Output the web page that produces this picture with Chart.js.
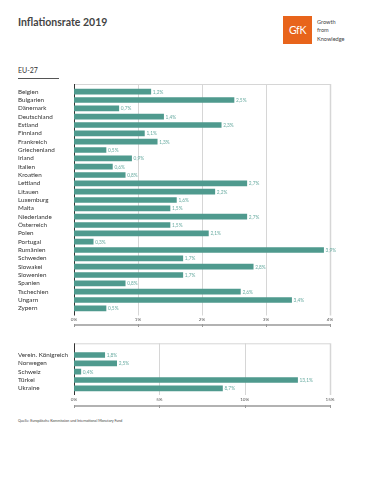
<!DOCTYPE html>
<html lang="de">
<head>
<meta charset="UTF-8">
<script src="https://cdn.jsdelivr.net/npm/chart.js"></script>
<title>Inflationsrate 2019</title>
<style>
    body{ margin:0; background:#fff; font-family: Lato, "Noto Sans", sans-serif; }
    .page{ position:relative; width:367px; height:480px; overflow:hidden; }
    .title{ position:absolute; left:18px; top:16px; font-size:10.5px; font-weight:bold; color:#444; }
    .logo{ position:absolute; left:283px; top:16px; width:29px; height:28px; background:#e8641b;
           color:#fff; font-size:10.5px; line-height:28px; text-align:center; letter-spacing:-0.3px; }
    .claim{ position:absolute; left:317px; top:18px; font-size:5.6px; line-height:8.3px; color:#444; }
    .sub{ position:absolute; left:18px; top:66px; font-size:7px; color:#333; }
    .subline{ position:absolute; left:18px; top:78px; width:41px; height:1px; background:#555; }
    .source{ position:absolute; left:18px; top:418px; font-size:3.6px; color:#444; }
    #c1{ position:absolute; left:0; top:76px; }
    #c2{ position:absolute; left:0; top:336px; }
</style>
</head>
<body>
<div class="page">
    <div class="title">Inflationsrate 2019</div>
    <div class="logo">GfK</div>
    <div class="claim">Growth<br>from<br>Knowledge</div>
    <div class="sub">EU-27</div>
    <div class="subline"></div>
    <canvas id="c1" width="367" height="256"></canvas>
    <canvas id="c2" width="367" height="76"></canvas>
    <div class="source">Quelle: Europäische Kommission und International Monetary Fund</div>
</div>
<script>
// EU-27
const euLaender = ['Belgien','Bulgarien','Dänemark','Deutschland','Estland','Finnland','Frankreich',
    'Griechenland','Irland','Italien','Kroatien','Lettland','Litauen','Luxemburg','Malta','Niederlande',
    'Österreich','Polen','Portugal','Rumänien','Schweden','Slowakei','Slowenien','Spanien','Tschechien',
    'Ungarn','Zypern'];
const euWerte = [1.2, 2.5, 0.7, 1.4, 2.3, 1.1, 1.3, 0.5, 0.9, 0.6, 0.8, 2.7, 2.2, 1.6, 1.5, 2.7,
    1.5, 2.1, 0.3, 3.9, 1.7, 2.8, 1.7, 0.8, 2.6, 3.4, 0.5];
const euTicks = [0, 1, 2, 3, 4];

// andere Länder
const andereLaender = ['Verein. Königreich','Norwegen','Schweiz','Türkei','Ukraine'];
const andereWerte = [1.8, 2.5, 0.4, 13.1, 8.7];
const andereTicks = [0, 5, 10, 15];

const barColor = '#4f9a8e';
const labelColor = '#6aaca2';

function fmt(v){ return v.toFixed(1).replace('.', ',') + '%'; }

// rahmen, gitter, untere achse und werte selbst zeichnen
const framePlugin = {
    id: 'frame',
    beforeDatasetsDraw(chart, args, opts){
        const ctx = chart.ctx, a = chart.chartArea, x = chart.scales.x;
        const top = a.top - opts.padTop, bottom = a.bottom + opts.padBottom;
        ctx.save();
        ctx.strokeStyle = '#d6d6d6';
        ctx.lineWidth = 1;
        x.ticks.forEach(function(t, i){
            if (i == 0) return;
            const px = Math.round(x.getPixelForValue(t.value)) + 0.5;
            ctx.lineWidth = (i == x.ticks.length - 1) ? 1.5 : 1;
            ctx.beginPath(); ctx.moveTo(px, top); ctx.lineTo(px, bottom); ctx.stroke();
        });
        ctx.lineWidth = 1;
        ctx.beginPath(); ctx.moveTo(a.left, top + 0.5); ctx.lineTo(a.right, top + 0.5); ctx.stroke();
        // linke achse
        ctx.strokeStyle = '#333';
        ctx.beginPath(); ctx.moveTo(a.left + 0.5, top); ctx.lineTo(a.left + 0.5, bottom); ctx.stroke();
        // untere achse unter den beschriftungen
        const ay = a.bottom + opts.axisOffset;
        ctx.strokeStyle = '#999';
        ctx.lineWidth = 1.5;
        ctx.beginPath(); ctx.moveTo(a.left, ay); ctx.lineTo(a.right + 1, ay); ctx.stroke();
        ctx.lineWidth = 1;
        x.ticks.forEach(function(t){
            const px = Math.round(x.getPixelForValue(t.value)) + 0.5;
            ctx.beginPath(); ctx.moveTo(px, ay - 1); ctx.lineTo(px, ay + 2); ctx.stroke();
        });
        ctx.restore();
    },
    afterDatasetsDraw(chart){
        const ctx = chart.ctx;
        const meta = chart.getDatasetMeta(0);
        const data = chart.data.datasets[0].data;
        ctx.save();
        ctx.fillStyle = labelColor;
        ctx.font = '4.8px Lato';
        ctx.textBaseline = 'middle';
        meta.data.forEach(function(bar, i){
            ctx.fillText(fmt(data[i]), bar.x + 2, bar.y + 0.3);
        });
        ctx.restore();
    }
};

function makeChart(id, labels, values, ticks, frame){
    return new Chart(document.getElementById(id), {
        type: 'bar',
        data: {
            labels: labels,
            datasets: [{ data: values, backgroundColor: barColor, barThickness: 5 }]
        },
        options: {
            indexAxis: 'y',
            responsive: false,
            animation: false,
            layout: { padding: { left: 18, right: 37, top: frame.top, bottom: frame.bottom } },
            plugins: { legend: { display: false }, tooltip: { enabled: false }, frame: frame },
            scales: {
                x: {
                    min: ticks[0], max: ticks[ticks.length - 1],
                    afterBuildTicks: function(s){ s.ticks = ticks.map(function(v){ return { value: v }; }); },
                    afterFit: function(s){ s.height = 14; },
                    grid: { display: false, drawTicks: false },
                    border: { display: false },
                    ticks: {
                        padding: 4,
                        color: '#555',
                        font: { family: 'Lato', size: 4.6 },
                        callback: function(v){ return v + '%'; }
                    }
                },
                y: {
                    afterFit: function(s){ s.width = 56; },
                    grid: { display: false, drawTicks: false },
                    border: { display: false },
                    ticks: {
                        crossAlign: 'far',
                        color: '#333',
                        font: { family: 'Lato', size: 6.3 },
                        autoSkip: false
                    }
                }
            }
        },
        plugins: [framePlugin]
    });
}

makeChart('c1', euLaender, euWerte, euTicks, { top: 11.5, bottom: 5.5, padTop: 3.5, padBottom: 3, axisOffset: 12.5 });
makeChart('c2', andereLaender, andereWerte, andereTicks, { top: 14.8, bottom: 5.5, padTop: 7.5, padBottom: 2.5, axisOffset: 13.5 });
</script>
</body>
</html>
